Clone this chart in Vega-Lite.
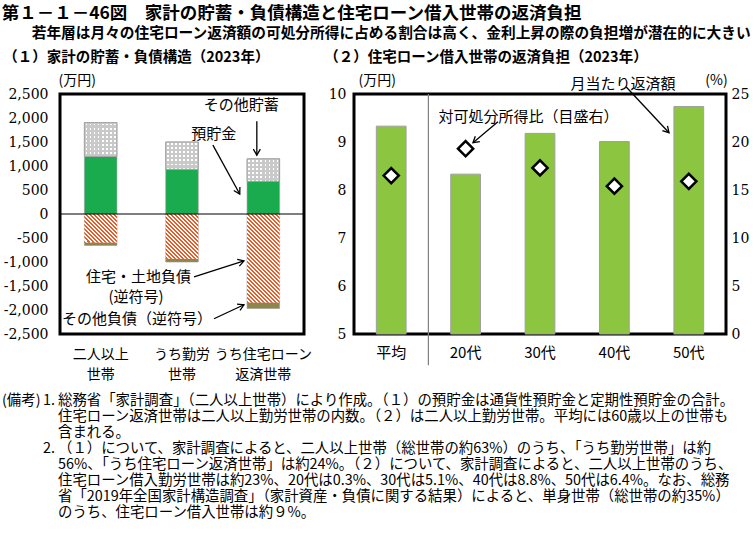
{
"$schema": "https://vega.github.io/schema/vega-lite/v6.json",
"background": "#ffffff",
"padding": {"left": 1, "top": 4, "right": 1, "bottom": 2},
"title": {"text": "第１－１－46図　家計の貯蓄・負債構造と住宅ローン借入世帯の返済負担", "anchor": "start", "frame": "bounds", "font": "Noto Sans CJK JP", "fontSize": 17.5, "fontWeight": "bold", "color": "#000", "offset": 4},
"config": {
  "font": "Noto Sans CJK JP",
  "view": {"stroke": "#000", "strokeWidth": 3},
  "axis": {"grid": false, "domain": false, "ticks": false, "tickSize": 0, "labelColor": "#000", "titleColor": "#000", "titleFont": "Noto Sans CJK JP", "titleFontSize": 14, "titleFontWeight": "normal", "labelFont": "Noto Sans CJK JP"},
  "title": {"font": "Noto Sans CJK JP", "fontSize": 14.5, "fontWeight": "bold", "color": "#000"},
  "text": {"color": "#000", "font": "Noto Sans CJK JP"}
},
"datasets": {
  "ledger": [
    {"cat": "二人以上|世帯", "seg": "預貯金", "order": 1, "value": 1200},
    {"cat": "二人以上|世帯", "seg": "その他貯蓄", "order": 2, "value": 704},
    {"cat": "二人以上|世帯", "seg": "住宅・土地負債", "order": 3, "value": -592},
    {"cat": "二人以上|世帯", "seg": "その他負債", "order": 4, "value": -63},
    {"cat": "うち勤労|世帯", "seg": "預貯金", "order": 1, "value": 930},
    {"cat": "うち勤労|世帯", "seg": "その他貯蓄", "order": 2, "value": 570},
    {"cat": "うち勤労|世帯", "seg": "住宅・土地負債", "order": 3, "value": -930},
    {"cat": "うち勤労|世帯", "seg": "その他負債", "order": 4, "value": -70},
    {"cat": "うち住宅ローン|返済世帯", "seg": "預貯金", "order": 1, "value": 680},
    {"cat": "うち住宅ローン|返済世帯", "seg": "その他貯蓄", "order": 2, "value": 470},
    {"cat": "うち住宅ローン|返済世帯", "seg": "住宅・土地負債", "order": 3, "value": -1845},
    {"cat": "うち住宅ローン|返済世帯", "seg": "その他負債", "order": 4, "value": -125}
  ],
  "repay": [
    {"age": "平均", "amount": 9.33, "ratio": 16.5},
    {"age": "20代", "amount": 8.33, "ratio": 19.3},
    {"age": "30代", "amount": 9.18, "ratio": 17.3},
    {"age": "40代", "amount": 9.01, "ratio": 15.4},
    {"age": "50代", "amount": 9.74, "ratio": 15.9}
  ],
  "annL": [
    {"label": "その他貯蓄", "x": 2.23, "y": 2265},
    {"label": "預貯金", "x": 1.89, "y": 1662},
    {"label": "住宅・土地負債", "x": 0.965, "y": -1309},
    {"label": "(逆符号)", "x": 0.934, "y": -1725},
    {"label": "その他負債（逆符号）", "x": 0.947, "y": -2182}
  ],
  "arrowsL": [
    {"id": "a1", "x": 2.42, "y": 1933, "x2": 2.42, "y2": 1226},
    {"id": "a2", "x": 1.88, "y": 1434, "x2": 2.21, "y2": 416},
    {"id": "a3", "x": 1.648, "y": -1309, "x2": 2.262, "y2": -977},
    {"id": "a4", "x": 1.893, "y": -2182, "x2": 2.262, "y2": -1891}
  ],
  "annR": [
    {"label": "月当たり返済額", "x": 3.616, "y": 10.215},
    {"label": "対可処分所得比（目盛右）", "x": 2.345, "y": 9.527}
  ],
  "arrowsR": [
    {"id": "b1", "x": 3.656, "y": 10.152, "x2": 4.234, "y2": 9.194},
    {"id": "b2", "x": 1.935, "y": 9.423, "x2": 1.599, "y2": 8.985}
  ],
  "sepR": [{"x": 1, "y": 10, "y2": 4.35}],
  "notes": [
    {"line": 1, "head": "(備考)", "num": "1.", "body": "総務省「家計調査」（二人以上世帯）により作成。（１）の預貯金は通貨性預貯金と定期性預貯金の合計。"},
    {"line": 2, "head": "", "num": "", "body": "住宅ローン返済世帯は二人以上勤労世帯の内数。（２）は二人以上勤労世帯。平均には60歳以上の世帯も"},
    {"line": 3, "head": "", "num": "", "body": "含まれる。"},
    {"line": 4, "head": "", "num": "2.", "body": "（１）について、家計調査によると、二人以上世帯（総世帯の約63%）のうち、「うち勤労世帯」は約"},
    {"line": 5, "head": "", "num": "", "body": "56%、「うち住宅ローン返済世帯」は約24%。（２）について、家計調査によると、二人以上世帯のうち、"},
    {"line": 6, "head": "", "num": "", "body": "住宅ローン借入勤労世帯は約23%、20代は0.3%、30代は5.1%、40代は8.8%、50代は6.4%。なお、総務"},
    {"line": 7, "head": "", "num": "", "body": "省「2019年全国家計構造調査」（家計資産・負債に関する結果）によると、単身世帯（総世帯の約35%）"},
    {"line": 8, "head": "", "num": "", "body": "のうち、住宅ローン借入世帯は約９%。"}
  ]
},
"columns": 1,
"align": "none",
"spacing": 10,
"concat": [
  {
    "title": {"text": "若年層は月々の住宅ローン返済額の可処分所得に占める割合は高く、金利上昇の際の負担増が潜在的に大きい", "anchor": "start", "frame": "bounds", "dx": 30, "fontSize": 14.7, "fontWeight": "bold", "offset": 7},
    "hconcat": [
      {
        "width": 244, "height": 240,
        "title": {"text": "（１）家計の貯蓄・負債構造（2023年）", "anchor": "start", "frame": "bounds", "offset": 8},
        "resolve": {"scale": {"x": "independent", "y": "independent"}},
        "layer": [
          {
            "data": {"name": "ledger"},
            "transform": [{"stack": "value", "groupby": ["cat"], "sort": [{"field": "order", "order": "ascending"}], "as": ["v0", "v1"]}],
            "encoding": {
              "x": {"field": "cat", "type": "nominal", "scale": {"domain": ["二人以上|世帯", "うち勤労|世帯", "うち住宅ローン|返済世帯"], "paddingInner": 0.6, "paddingOuter": 0.3}, "axis": {"title": null, "labelAngle": 0, "labelExpr": "split(datum.label, '|')", "labelFontSize": 14, "labelPadding": 13, "labelLineHeight": 20}},
              "y": {"field": "v0", "type": "quantitative", "scale": {"domain": [-2500, 2500], "nice": false, "zero": false}, "axis": {"title": "(万円)", "values": [2500, 2000, 1500, 1000, 500, 0, -500, -1000, -1500, -2000, -2500], "labelExpr": "(datum.value < 0 ? '-' : '') + format(abs(datum.value), ',')", "labelFont": "DejaVu Serif", "labelFontSize": 14, "labelPadding": 12, "titleAngle": 0, "titleAlign": "left", "titleBaseline": "middle", "titleX": -2, "titleY": -14}},
              "y2": {"field": "v1"}
            },
            "layer": [
              {"mark": {"type": "bar", "stroke": "#999999", "strokeWidth": 0.6}, "encoding": {"color": {"field": "seg", "type": "nominal", "scale": {"domain": ["預貯金", "その他貯蓄", "住宅・土地負債", "その他負債"], "range": ["#1aab4f", "#c9c9c9", "#ffffff", "#8e8548"]}, "legend": null}}},
              {"transform": [{"filter": "datum.seg === '住宅・土地負債' && datum.cat === '二人以上|世帯'"}], "mark": {"type": "bar", "fill": {"gradient": "linear", "x1": 0, "y1": 1, "x2": 2.238, "y2": -0.953, "stops": [{"offset":0,"color":"#f05a22"},{"offset":0.0156,"color":"#f05a22"},{"offset":0.0156,"color":"#fff"},{"offset":0.0313,"color":"#fff"},{"offset":0.0313,"color":"#f05a22"},{"offset":0.0469,"color":"#f05a22"},{"offset":0.0469,"color":"#fff"},{"offset":0.0625,"color":"#fff"},{"offset":0.0625,"color":"#f05a22"},{"offset":0.0781,"color":"#f05a22"},{"offset":0.0781,"color":"#fff"},{"offset":0.0938,"color":"#fff"},{"offset":0.0938,"color":"#f05a22"},{"offset":0.1094,"color":"#f05a22"},{"offset":0.1094,"color":"#fff"},{"offset":0.125,"color":"#fff"},{"offset":0.125,"color":"#f05a22"},{"offset":0.1406,"color":"#f05a22"},{"offset":0.1406,"color":"#fff"},{"offset":0.1563,"color":"#fff"},{"offset":0.1563,"color":"#f05a22"},{"offset":0.1719,"color":"#f05a22"},{"offset":0.1719,"color":"#fff"},{"offset":0.1875,"color":"#fff"},{"offset":0.1875,"color":"#f05a22"},{"offset":0.2031,"color":"#f05a22"},{"offset":0.2031,"color":"#fff"},{"offset":0.2188,"color":"#fff"},{"offset":0.2188,"color":"#f05a22"},{"offset":0.2344,"color":"#f05a22"},{"offset":0.2344,"color":"#fff"},{"offset":0.25,"color":"#fff"},{"offset":0.25,"color":"#f05a22"},{"offset":0.2656,"color":"#f05a22"},{"offset":0.2656,"color":"#fff"},{"offset":0.2813,"color":"#fff"},{"offset":0.2813,"color":"#f05a22"},{"offset":0.2969,"color":"#f05a22"},{"offset":0.2969,"color":"#fff"},{"offset":0.3125,"color":"#fff"},{"offset":0.3125,"color":"#f05a22"},{"offset":0.3281,"color":"#f05a22"},{"offset":0.3281,"color":"#fff"},{"offset":0.3438,"color":"#fff"},{"offset":0.3438,"color":"#f05a22"},{"offset":0.3594,"color":"#f05a22"},{"offset":0.3594,"color":"#fff"},{"offset":0.375,"color":"#fff"},{"offset":0.375,"color":"#f05a22"},{"offset":0.3906,"color":"#f05a22"},{"offset":0.3906,"color":"#fff"},{"offset":0.4063,"color":"#fff"},{"offset":0.4063,"color":"#f05a22"},{"offset":0.4219,"color":"#f05a22"},{"offset":0.4219,"color":"#fff"},{"offset":0.4375,"color":"#fff"},{"offset":0.4375,"color":"#f05a22"},{"offset":0.4531,"color":"#f05a22"},{"offset":0.4531,"color":"#fff"},{"offset":0.4688,"color":"#fff"},{"offset":0.4688,"color":"#f05a22"},{"offset":0.4844,"color":"#f05a22"},{"offset":0.4844,"color":"#fff"},{"offset":0.5,"color":"#fff"},{"offset":0.5,"color":"#f05a22"},{"offset":0.5156,"color":"#f05a22"},{"offset":0.5156,"color":"#fff"},{"offset":0.5313,"color":"#fff"},{"offset":0.5313,"color":"#f05a22"},{"offset":0.5469,"color":"#f05a22"},{"offset":0.5469,"color":"#fff"},{"offset":0.5625,"color":"#fff"},{"offset":0.5625,"color":"#f05a22"},{"offset":0.5781,"color":"#f05a22"},{"offset":0.5781,"color":"#fff"},{"offset":0.5938,"color":"#fff"},{"offset":0.5938,"color":"#f05a22"},{"offset":0.6094,"color":"#f05a22"},{"offset":0.6094,"color":"#fff"},{"offset":0.625,"color":"#fff"},{"offset":0.625,"color":"#f05a22"},{"offset":0.6406,"color":"#f05a22"},{"offset":0.6406,"color":"#fff"},{"offset":0.6563,"color":"#fff"},{"offset":0.6563,"color":"#f05a22"},{"offset":0.6719,"color":"#f05a22"},{"offset":0.6719,"color":"#fff"},{"offset":0.6875,"color":"#fff"},{"offset":0.6875,"color":"#f05a22"},{"offset":0.7031,"color":"#f05a22"},{"offset":0.7031,"color":"#fff"},{"offset":0.7188,"color":"#fff"},{"offset":0.7188,"color":"#f05a22"},{"offset":0.7344,"color":"#f05a22"},{"offset":0.7344,"color":"#fff"},{"offset":0.75,"color":"#fff"},{"offset":0.75,"color":"#f05a22"},{"offset":0.7656,"color":"#f05a22"},{"offset":0.7656,"color":"#fff"},{"offset":0.7813,"color":"#fff"},{"offset":0.7813,"color":"#f05a22"},{"offset":0.7969,"color":"#f05a22"},{"offset":0.7969,"color":"#fff"},{"offset":0.8125,"color":"#fff"},{"offset":0.8125,"color":"#f05a22"},{"offset":0.8281,"color":"#f05a22"},{"offset":0.8281,"color":"#fff"},{"offset":0.8438,"color":"#fff"},{"offset":0.8438,"color":"#f05a22"},{"offset":0.8594,"color":"#f05a22"},{"offset":0.8594,"color":"#fff"},{"offset":0.875,"color":"#fff"},{"offset":0.875,"color":"#f05a22"},{"offset":0.8906,"color":"#f05a22"},{"offset":0.8906,"color":"#fff"},{"offset":0.9063,"color":"#fff"},{"offset":0.9063,"color":"#f05a22"},{"offset":0.9219,"color":"#f05a22"},{"offset":0.9219,"color":"#fff"},{"offset":0.9375,"color":"#fff"},{"offset":0.9375,"color":"#f05a22"},{"offset":0.9531,"color":"#f05a22"},{"offset":0.9531,"color":"#fff"},{"offset":0.9688,"color":"#fff"},{"offset":0.9688,"color":"#f05a22"},{"offset":0.9844,"color":"#f05a22"},{"offset":0.9844,"color":"#fff"},{"offset":1,"color":"#fff"}]}}},
              {"transform": [{"filter": "datum.seg === '住宅・土地負債' && datum.cat === 'うち勤労|世帯'"}], "mark": {"type": "bar", "fill": {"gradient": "linear", "x1": 0, "y1": 1, "x2": 1.365, "y2": -0.872, "stops": [{"offset":0,"color":"#f05a22"},{"offset":0.0156,"color":"#f05a22"},{"offset":0.0156,"color":"#fff"},{"offset":0.0313,"color":"#fff"},{"offset":0.0313,"color":"#f05a22"},{"offset":0.0469,"color":"#f05a22"},{"offset":0.0469,"color":"#fff"},{"offset":0.0625,"color":"#fff"},{"offset":0.0625,"color":"#f05a22"},{"offset":0.0781,"color":"#f05a22"},{"offset":0.0781,"color":"#fff"},{"offset":0.0938,"color":"#fff"},{"offset":0.0938,"color":"#f05a22"},{"offset":0.1094,"color":"#f05a22"},{"offset":0.1094,"color":"#fff"},{"offset":0.125,"color":"#fff"},{"offset":0.125,"color":"#f05a22"},{"offset":0.1406,"color":"#f05a22"},{"offset":0.1406,"color":"#fff"},{"offset":0.1563,"color":"#fff"},{"offset":0.1563,"color":"#f05a22"},{"offset":0.1719,"color":"#f05a22"},{"offset":0.1719,"color":"#fff"},{"offset":0.1875,"color":"#fff"},{"offset":0.1875,"color":"#f05a22"},{"offset":0.2031,"color":"#f05a22"},{"offset":0.2031,"color":"#fff"},{"offset":0.2188,"color":"#fff"},{"offset":0.2188,"color":"#f05a22"},{"offset":0.2344,"color":"#f05a22"},{"offset":0.2344,"color":"#fff"},{"offset":0.25,"color":"#fff"},{"offset":0.25,"color":"#f05a22"},{"offset":0.2656,"color":"#f05a22"},{"offset":0.2656,"color":"#fff"},{"offset":0.2813,"color":"#fff"},{"offset":0.2813,"color":"#f05a22"},{"offset":0.2969,"color":"#f05a22"},{"offset":0.2969,"color":"#fff"},{"offset":0.3125,"color":"#fff"},{"offset":0.3125,"color":"#f05a22"},{"offset":0.3281,"color":"#f05a22"},{"offset":0.3281,"color":"#fff"},{"offset":0.3438,"color":"#fff"},{"offset":0.3438,"color":"#f05a22"},{"offset":0.3594,"color":"#f05a22"},{"offset":0.3594,"color":"#fff"},{"offset":0.375,"color":"#fff"},{"offset":0.375,"color":"#f05a22"},{"offset":0.3906,"color":"#f05a22"},{"offset":0.3906,"color":"#fff"},{"offset":0.4063,"color":"#fff"},{"offset":0.4063,"color":"#f05a22"},{"offset":0.4219,"color":"#f05a22"},{"offset":0.4219,"color":"#fff"},{"offset":0.4375,"color":"#fff"},{"offset":0.4375,"color":"#f05a22"},{"offset":0.4531,"color":"#f05a22"},{"offset":0.4531,"color":"#fff"},{"offset":0.4688,"color":"#fff"},{"offset":0.4688,"color":"#f05a22"},{"offset":0.4844,"color":"#f05a22"},{"offset":0.4844,"color":"#fff"},{"offset":0.5,"color":"#fff"},{"offset":0.5,"color":"#f05a22"},{"offset":0.5156,"color":"#f05a22"},{"offset":0.5156,"color":"#fff"},{"offset":0.5313,"color":"#fff"},{"offset":0.5313,"color":"#f05a22"},{"offset":0.5469,"color":"#f05a22"},{"offset":0.5469,"color":"#fff"},{"offset":0.5625,"color":"#fff"},{"offset":0.5625,"color":"#f05a22"},{"offset":0.5781,"color":"#f05a22"},{"offset":0.5781,"color":"#fff"},{"offset":0.5938,"color":"#fff"},{"offset":0.5938,"color":"#f05a22"},{"offset":0.6094,"color":"#f05a22"},{"offset":0.6094,"color":"#fff"},{"offset":0.625,"color":"#fff"},{"offset":0.625,"color":"#f05a22"},{"offset":0.6406,"color":"#f05a22"},{"offset":0.6406,"color":"#fff"},{"offset":0.6563,"color":"#fff"},{"offset":0.6563,"color":"#f05a22"},{"offset":0.6719,"color":"#f05a22"},{"offset":0.6719,"color":"#fff"},{"offset":0.6875,"color":"#fff"},{"offset":0.6875,"color":"#f05a22"},{"offset":0.7031,"color":"#f05a22"},{"offset":0.7031,"color":"#fff"},{"offset":0.7188,"color":"#fff"},{"offset":0.7188,"color":"#f05a22"},{"offset":0.7344,"color":"#f05a22"},{"offset":0.7344,"color":"#fff"},{"offset":0.75,"color":"#fff"},{"offset":0.75,"color":"#f05a22"},{"offset":0.7656,"color":"#f05a22"},{"offset":0.7656,"color":"#fff"},{"offset":0.7813,"color":"#fff"},{"offset":0.7813,"color":"#f05a22"},{"offset":0.7969,"color":"#f05a22"},{"offset":0.7969,"color":"#fff"},{"offset":0.8125,"color":"#fff"},{"offset":0.8125,"color":"#f05a22"},{"offset":0.8281,"color":"#f05a22"},{"offset":0.8281,"color":"#fff"},{"offset":0.8438,"color":"#fff"},{"offset":0.8438,"color":"#f05a22"},{"offset":0.8594,"color":"#f05a22"},{"offset":0.8594,"color":"#fff"},{"offset":0.875,"color":"#fff"},{"offset":0.875,"color":"#f05a22"},{"offset":0.8906,"color":"#f05a22"},{"offset":0.8906,"color":"#fff"},{"offset":0.9063,"color":"#fff"},{"offset":0.9063,"color":"#f05a22"},{"offset":0.9219,"color":"#f05a22"},{"offset":0.9219,"color":"#fff"},{"offset":0.9375,"color":"#fff"},{"offset":0.9375,"color":"#f05a22"},{"offset":0.9531,"color":"#f05a22"},{"offset":0.9531,"color":"#fff"},{"offset":0.9688,"color":"#fff"},{"offset":0.9688,"color":"#f05a22"},{"offset":0.9844,"color":"#f05a22"},{"offset":0.9844,"color":"#fff"},{"offset":1,"color":"#fff"}]}}},
              {"transform": [{"filter": "datum.seg === '住宅・土地負債' && datum.cat === 'うち住宅ローン|返済世帯'"}], "mark": {"type": "bar", "fill": {"gradient": "linear", "x1": 0, "y1": 1, "x2": 0.467, "y2": -0.272, "stops": [{"offset":0,"color":"#f05a22"},{"offset":0.0156,"color":"#f05a22"},{"offset":0.0156,"color":"#fff"},{"offset":0.0313,"color":"#fff"},{"offset":0.0313,"color":"#f05a22"},{"offset":0.0469,"color":"#f05a22"},{"offset":0.0469,"color":"#fff"},{"offset":0.0625,"color":"#fff"},{"offset":0.0625,"color":"#f05a22"},{"offset":0.0781,"color":"#f05a22"},{"offset":0.0781,"color":"#fff"},{"offset":0.0938,"color":"#fff"},{"offset":0.0938,"color":"#f05a22"},{"offset":0.1094,"color":"#f05a22"},{"offset":0.1094,"color":"#fff"},{"offset":0.125,"color":"#fff"},{"offset":0.125,"color":"#f05a22"},{"offset":0.1406,"color":"#f05a22"},{"offset":0.1406,"color":"#fff"},{"offset":0.1563,"color":"#fff"},{"offset":0.1563,"color":"#f05a22"},{"offset":0.1719,"color":"#f05a22"},{"offset":0.1719,"color":"#fff"},{"offset":0.1875,"color":"#fff"},{"offset":0.1875,"color":"#f05a22"},{"offset":0.2031,"color":"#f05a22"},{"offset":0.2031,"color":"#fff"},{"offset":0.2188,"color":"#fff"},{"offset":0.2188,"color":"#f05a22"},{"offset":0.2344,"color":"#f05a22"},{"offset":0.2344,"color":"#fff"},{"offset":0.25,"color":"#fff"},{"offset":0.25,"color":"#f05a22"},{"offset":0.2656,"color":"#f05a22"},{"offset":0.2656,"color":"#fff"},{"offset":0.2813,"color":"#fff"},{"offset":0.2813,"color":"#f05a22"},{"offset":0.2969,"color":"#f05a22"},{"offset":0.2969,"color":"#fff"},{"offset":0.3125,"color":"#fff"},{"offset":0.3125,"color":"#f05a22"},{"offset":0.3281,"color":"#f05a22"},{"offset":0.3281,"color":"#fff"},{"offset":0.3438,"color":"#fff"},{"offset":0.3438,"color":"#f05a22"},{"offset":0.3594,"color":"#f05a22"},{"offset":0.3594,"color":"#fff"},{"offset":0.375,"color":"#fff"},{"offset":0.375,"color":"#f05a22"},{"offset":0.3906,"color":"#f05a22"},{"offset":0.3906,"color":"#fff"},{"offset":0.4063,"color":"#fff"},{"offset":0.4063,"color":"#f05a22"},{"offset":0.4219,"color":"#f05a22"},{"offset":0.4219,"color":"#fff"},{"offset":0.4375,"color":"#fff"},{"offset":0.4375,"color":"#f05a22"},{"offset":0.4531,"color":"#f05a22"},{"offset":0.4531,"color":"#fff"},{"offset":0.4688,"color":"#fff"},{"offset":0.4688,"color":"#f05a22"},{"offset":0.4844,"color":"#f05a22"},{"offset":0.4844,"color":"#fff"},{"offset":0.5,"color":"#fff"},{"offset":0.5,"color":"#f05a22"},{"offset":0.5156,"color":"#f05a22"},{"offset":0.5156,"color":"#fff"},{"offset":0.5313,"color":"#fff"},{"offset":0.5313,"color":"#f05a22"},{"offset":0.5469,"color":"#f05a22"},{"offset":0.5469,"color":"#fff"},{"offset":0.5625,"color":"#fff"},{"offset":0.5625,"color":"#f05a22"},{"offset":0.5781,"color":"#f05a22"},{"offset":0.5781,"color":"#fff"},{"offset":0.5938,"color":"#fff"},{"offset":0.5938,"color":"#f05a22"},{"offset":0.6094,"color":"#f05a22"},{"offset":0.6094,"color":"#fff"},{"offset":0.625,"color":"#fff"},{"offset":0.625,"color":"#f05a22"},{"offset":0.6406,"color":"#f05a22"},{"offset":0.6406,"color":"#fff"},{"offset":0.6563,"color":"#fff"},{"offset":0.6563,"color":"#f05a22"},{"offset":0.6719,"color":"#f05a22"},{"offset":0.6719,"color":"#fff"},{"offset":0.6875,"color":"#fff"},{"offset":0.6875,"color":"#f05a22"},{"offset":0.7031,"color":"#f05a22"},{"offset":0.7031,"color":"#fff"},{"offset":0.7188,"color":"#fff"},{"offset":0.7188,"color":"#f05a22"},{"offset":0.7344,"color":"#f05a22"},{"offset":0.7344,"color":"#fff"},{"offset":0.75,"color":"#fff"},{"offset":0.75,"color":"#f05a22"},{"offset":0.7656,"color":"#f05a22"},{"offset":0.7656,"color":"#fff"},{"offset":0.7813,"color":"#fff"},{"offset":0.7813,"color":"#f05a22"},{"offset":0.7969,"color":"#f05a22"},{"offset":0.7969,"color":"#fff"},{"offset":0.8125,"color":"#fff"},{"offset":0.8125,"color":"#f05a22"},{"offset":0.8281,"color":"#f05a22"},{"offset":0.8281,"color":"#fff"},{"offset":0.8438,"color":"#fff"},{"offset":0.8438,"color":"#f05a22"},{"offset":0.8594,"color":"#f05a22"},{"offset":0.8594,"color":"#fff"},{"offset":0.875,"color":"#fff"},{"offset":0.875,"color":"#f05a22"},{"offset":0.8906,"color":"#f05a22"},{"offset":0.8906,"color":"#fff"},{"offset":0.9063,"color":"#fff"},{"offset":0.9063,"color":"#f05a22"},{"offset":0.9219,"color":"#f05a22"},{"offset":0.9219,"color":"#fff"},{"offset":0.9375,"color":"#fff"},{"offset":0.9375,"color":"#f05a22"},{"offset":0.9531,"color":"#f05a22"},{"offset":0.9531,"color":"#fff"},{"offset":0.9688,"color":"#fff"},{"offset":0.9688,"color":"#f05a22"},{"offset":0.9844,"color":"#f05a22"},{"offset":0.9844,"color":"#fff"},{"offset":1,"color":"#fff"}]}}},
              {"transform": [{"filter": "datum.seg === 'その他貯蓄'"}], "mark": {"type": "bar", "fill": {"gradient": "linear", "x1": 0, "y1": 0, "x2": 1, "y2": 0, "stops": [{"offset":0,"color":"#c9c9c9"},{"offset":0.0375,"color":"#c9c9c9"},{"offset":0.0375,"color":"#fff"},{"offset":0.0875,"color":"#fff"},{"offset":0.0875,"color":"#c9c9c9"},{"offset":0.1625,"color":"#c9c9c9"},{"offset":0.1625,"color":"#fff"},{"offset":0.2125,"color":"#fff"},{"offset":0.2125,"color":"#c9c9c9"},{"offset":0.2875,"color":"#c9c9c9"},{"offset":0.2875,"color":"#fff"},{"offset":0.3375,"color":"#fff"},{"offset":0.3375,"color":"#c9c9c9"},{"offset":0.4125,"color":"#c9c9c9"},{"offset":0.4125,"color":"#fff"},{"offset":0.4625,"color":"#fff"},{"offset":0.4625,"color":"#c9c9c9"},{"offset":0.5375,"color":"#c9c9c9"},{"offset":0.5375,"color":"#fff"},{"offset":0.5875,"color":"#fff"},{"offset":0.5875,"color":"#c9c9c9"},{"offset":0.6625,"color":"#c9c9c9"},{"offset":0.6625,"color":"#fff"},{"offset":0.7125,"color":"#fff"},{"offset":0.7125,"color":"#c9c9c9"},{"offset":0.7875,"color":"#c9c9c9"},{"offset":0.7875,"color":"#fff"},{"offset":0.8375,"color":"#fff"},{"offset":0.8375,"color":"#c9c9c9"},{"offset":0.9125,"color":"#c9c9c9"},{"offset":0.9125,"color":"#fff"},{"offset":0.9625,"color":"#fff"},{"offset":0.9625,"color":"#c9c9c9"},{"offset":1,"color":"#c9c9c9"}]}}},
              {"transform": [{"filter": "datum.seg === 'その他貯蓄' && datum.cat === '二人以上|世帯'"}], "mark": {"type": "bar", "stroke": "#9a9a9a", "strokeWidth": 0.8, "fill": {"gradient": "linear", "x1": 0, "y1": 0, "x2": 0, "y2": 0.963, "stops": [{"offset":0,"color":"#c9c9c9"},{"offset":0.0375,"color":"#c9c9c9"},{"offset":0.0375,"color":"rgba(201,201,201,0)"},{"offset":0.0875,"color":"rgba(201,201,201,0)"},{"offset":0.0875,"color":"#c9c9c9"},{"offset":0.1625,"color":"#c9c9c9"},{"offset":0.1625,"color":"rgba(201,201,201,0)"},{"offset":0.2125,"color":"rgba(201,201,201,0)"},{"offset":0.2125,"color":"#c9c9c9"},{"offset":0.2875,"color":"#c9c9c9"},{"offset":0.2875,"color":"rgba(201,201,201,0)"},{"offset":0.3375,"color":"rgba(201,201,201,0)"},{"offset":0.3375,"color":"#c9c9c9"},{"offset":0.4125,"color":"#c9c9c9"},{"offset":0.4125,"color":"rgba(201,201,201,0)"},{"offset":0.4625,"color":"rgba(201,201,201,0)"},{"offset":0.4625,"color":"#c9c9c9"},{"offset":0.5375,"color":"#c9c9c9"},{"offset":0.5375,"color":"rgba(201,201,201,0)"},{"offset":0.5875,"color":"rgba(201,201,201,0)"},{"offset":0.5875,"color":"#c9c9c9"},{"offset":0.6625,"color":"#c9c9c9"},{"offset":0.6625,"color":"rgba(201,201,201,0)"},{"offset":0.7125,"color":"rgba(201,201,201,0)"},{"offset":0.7125,"color":"#c9c9c9"},{"offset":0.7875,"color":"#c9c9c9"},{"offset":0.7875,"color":"rgba(201,201,201,0)"},{"offset":0.8375,"color":"rgba(201,201,201,0)"},{"offset":0.8375,"color":"#c9c9c9"},{"offset":0.9125,"color":"#c9c9c9"},{"offset":0.9125,"color":"rgba(201,201,201,0)"},{"offset":0.9625,"color":"rgba(201,201,201,0)"},{"offset":0.9625,"color":"#c9c9c9"},{"offset":1,"color":"#c9c9c9"}]}}},
              {"transform": [{"filter": "datum.seg === 'その他貯蓄' && datum.cat === 'うち勤労|世帯'"}], "mark": {"type": "bar", "stroke": "#9a9a9a", "strokeWidth": 0.8, "fill": {"gradient": "linear", "x1": 0, "y1": 0, "x2": 0, "y2": 1.188, "stops": [{"offset":0,"color":"#c9c9c9"},{"offset":0.0375,"color":"#c9c9c9"},{"offset":0.0375,"color":"rgba(201,201,201,0)"},{"offset":0.0875,"color":"rgba(201,201,201,0)"},{"offset":0.0875,"color":"#c9c9c9"},{"offset":0.1625,"color":"#c9c9c9"},{"offset":0.1625,"color":"rgba(201,201,201,0)"},{"offset":0.2125,"color":"rgba(201,201,201,0)"},{"offset":0.2125,"color":"#c9c9c9"},{"offset":0.2875,"color":"#c9c9c9"},{"offset":0.2875,"color":"rgba(201,201,201,0)"},{"offset":0.3375,"color":"rgba(201,201,201,0)"},{"offset":0.3375,"color":"#c9c9c9"},{"offset":0.4125,"color":"#c9c9c9"},{"offset":0.4125,"color":"rgba(201,201,201,0)"},{"offset":0.4625,"color":"rgba(201,201,201,0)"},{"offset":0.4625,"color":"#c9c9c9"},{"offset":0.5375,"color":"#c9c9c9"},{"offset":0.5375,"color":"rgba(201,201,201,0)"},{"offset":0.5875,"color":"rgba(201,201,201,0)"},{"offset":0.5875,"color":"#c9c9c9"},{"offset":0.6625,"color":"#c9c9c9"},{"offset":0.6625,"color":"rgba(201,201,201,0)"},{"offset":0.7125,"color":"rgba(201,201,201,0)"},{"offset":0.7125,"color":"#c9c9c9"},{"offset":0.7875,"color":"#c9c9c9"},{"offset":0.7875,"color":"rgba(201,201,201,0)"},{"offset":0.8375,"color":"rgba(201,201,201,0)"},{"offset":0.8375,"color":"#c9c9c9"},{"offset":0.9125,"color":"#c9c9c9"},{"offset":0.9125,"color":"rgba(201,201,201,0)"},{"offset":0.9625,"color":"rgba(201,201,201,0)"},{"offset":0.9625,"color":"#c9c9c9"},{"offset":1,"color":"#c9c9c9"}]}}},
              {"transform": [{"filter": "datum.seg === 'その他貯蓄' && datum.cat === 'うち住宅ローン|返済世帯'"}], "mark": {"type": "bar", "stroke": "#9a9a9a", "strokeWidth": 0.8, "fill": {"gradient": "linear", "x1": 0, "y1": 0, "x2": 0, "y2": 1.441, "stops": [{"offset":0,"color":"#c9c9c9"},{"offset":0.0375,"color":"#c9c9c9"},{"offset":0.0375,"color":"rgba(201,201,201,0)"},{"offset":0.0875,"color":"rgba(201,201,201,0)"},{"offset":0.0875,"color":"#c9c9c9"},{"offset":0.1625,"color":"#c9c9c9"},{"offset":0.1625,"color":"rgba(201,201,201,0)"},{"offset":0.2125,"color":"rgba(201,201,201,0)"},{"offset":0.2125,"color":"#c9c9c9"},{"offset":0.2875,"color":"#c9c9c9"},{"offset":0.2875,"color":"rgba(201,201,201,0)"},{"offset":0.3375,"color":"rgba(201,201,201,0)"},{"offset":0.3375,"color":"#c9c9c9"},{"offset":0.4125,"color":"#c9c9c9"},{"offset":0.4125,"color":"rgba(201,201,201,0)"},{"offset":0.4625,"color":"rgba(201,201,201,0)"},{"offset":0.4625,"color":"#c9c9c9"},{"offset":0.5375,"color":"#c9c9c9"},{"offset":0.5375,"color":"rgba(201,201,201,0)"},{"offset":0.5875,"color":"rgba(201,201,201,0)"},{"offset":0.5875,"color":"#c9c9c9"},{"offset":0.6625,"color":"#c9c9c9"},{"offset":0.6625,"color":"rgba(201,201,201,0)"},{"offset":0.7125,"color":"rgba(201,201,201,0)"},{"offset":0.7125,"color":"#c9c9c9"},{"offset":0.7875,"color":"#c9c9c9"},{"offset":0.7875,"color":"rgba(201,201,201,0)"},{"offset":0.8375,"color":"rgba(201,201,201,0)"},{"offset":0.8375,"color":"#c9c9c9"},{"offset":0.9125,"color":"#c9c9c9"},{"offset":0.9125,"color":"rgba(201,201,201,0)"},{"offset":0.9625,"color":"rgba(201,201,201,0)"},{"offset":0.9625,"color":"#c9c9c9"},{"offset":1,"color":"#c9c9c9"}]}}}
            ]
          },
          {
            "layer": [
              {"data": {"values": [{}]}, "mark": {"type": "rule", "color": "#000", "strokeWidth": 1.2}, "encoding": {"y": {"datum": 0, "type": "quantitative", "scale": {"domain": [-2500, 2500], "nice": false, "zero": false}, "axis": null}}},
              {"data": {"name": "annL"}, "mark": {"type": "text", "fontSize": 15, "align": "center", "baseline": "middle"}, "encoding": {"x": {"field": "x", "type": "quantitative", "scale": {"domain": [0, 3], "nice": false, "zero": false}, "axis": null}, "y": {"field": "y", "type": "quantitative", "scale": {"domain": [-2500, 2500], "nice": false, "zero": false}, "axis": null}, "text": {"field": "label"}}},
              {"data": {"name": "arrowsL"}, "mark": {"type": "rule", "color": "#000", "strokeWidth": 1.3}, "encoding": {"x": {"field": "x", "type": "quantitative", "axis": null}, "y": {"field": "y", "type": "quantitative", "axis": null}, "x2": {"field": "x2"}, "y2": {"field": "y2"}}},
              {"data": {"name": "arrowsL"}, "transform": [{"filter": "datum.id === 'a1'"}], "mark": {"type": "point", "shape": "M-0.7,1.2L0,0L0.7,1.2", "size": 100, "filled": false, "stroke": "#000", "strokeWidth": 1.3, "opacity": 1, "angle": 180}, "encoding": {"x": {"field": "x2", "type": "quantitative", "axis": null}, "y": {"field": "y2", "type": "quantitative", "axis": null}}},
              {"data": {"name": "arrowsL"}, "transform": [{"filter": "datum.id === 'a2'"}], "mark": {"type": "point", "shape": "M-0.7,1.2L0,0L0.7,1.2", "size": 100, "filled": false, "stroke": "#000", "strokeWidth": 1.3, "opacity": 1, "angle": 151}, "encoding": {"x": {"field": "x2", "type": "quantitative", "axis": null}, "y": {"field": "y2", "type": "quantitative", "axis": null}}},
              {"data": {"name": "arrowsL"}, "transform": [{"filter": "datum.id === 'a3'"}], "mark": {"type": "point", "shape": "M-0.7,1.2L0,0L0.7,1.2", "size": 100, "filled": false, "stroke": "#000", "strokeWidth": 1.3, "opacity": 1, "angle": 72}, "encoding": {"x": {"field": "x2", "type": "quantitative", "axis": null}, "y": {"field": "y2", "type": "quantitative", "axis": null}}},
              {"data": {"name": "arrowsL"}, "transform": [{"filter": "datum.id === 'a4'"}], "mark": {"type": "point", "shape": "M-0.7,1.2L0,0L0.7,1.2", "size": 100, "filled": false, "stroke": "#000", "strokeWidth": 1.3, "opacity": 1, "angle": 65}, "encoding": {"x": {"field": "x2", "type": "quantitative", "axis": null}, "y": {"field": "y2", "type": "quantitative", "axis": null}}}
            ]
          }
        ]
      },
      {
        "width": 372, "height": 240,
        "title": {"text": "（２）住宅ローン借入世帯の返済負担（2023年）", "anchor": "start", "frame": "bounds", "offset": 8, "dx": -4},
        "resolve": {"scale": {"x": "independent", "y": "independent"}},
        "layer": [
          {
            "data": {"name": "repay"},
            "encoding": {"x": {"field": "age", "type": "nominal", "scale": {"domain": ["平均", "20代", "30代", "40代", "50代"], "paddingInner": 0.6, "paddingOuter": 0.3}, "axis": {"title": null, "labelAngle": 0, "labelFontSize": 15, "labelPadding": 11}}},
            "resolve": {"scale": {"y": "independent"}},
            "layer": [
              {"mark": {"type": "bar", "fill": "#8cc540", "stroke": "#a0a0a0", "strokeWidth": 1}, "encoding": {"y": {"field": "amount", "type": "quantitative", "scale": {"domain": [5, 10], "nice": false, "zero": false}, "axis": {"title": "(万円)", "values": [5, 6, 7, 8, 9, 10], "labelFont": "DejaVu Serif", "labelFontSize": 14, "labelPadding": 8, "titleAngle": 0, "titleAlign": "left", "titleBaseline": "middle", "titleX": 4, "titleY": -14}}, "y2": {"datum": 5}}},
              {"mark": {"type": "point", "shape": "diamond", "size": 230, "filled": true, "fill": "#ffffff", "stroke": "#000", "strokeWidth": 2.5, "opacity": 1}, "encoding": {"y": {"field": "ratio", "type": "quantitative", "scale": {"domain": [0, 25], "nice": false}, "axis": {"orient": "right", "title": "(%)", "values": [0, 5, 10, 15, 20, 25], "labelFont": "DejaVu Serif", "labelFontSize": 14, "labelPadding": 5, "titleAngle": 0, "titleAlign": "center", "titleBaseline": "middle", "titleX": -10, "titleY": -14}}}}
            ]
          },
          {
            "layer": [
              {"data": {"name": "sepR"}, "mark": {"type": "rule", "color": "#808080", "strokeWidth": 1.2}, "encoding": {"x": {"field": "x", "type": "quantitative", "scale": {"domain": [0, 5], "nice": false, "zero": false}, "axis": null}, "y": {"field": "y", "type": "quantitative", "scale": {"domain": [5, 10], "nice": false, "zero": false}, "axis": null}, "y2": {"field": "y2"}}},
              {"data": {"name": "annR"}, "mark": {"type": "text", "fontSize": 15, "align": "center", "baseline": "middle"}, "encoding": {"x": {"field": "x", "type": "quantitative", "axis": null}, "y": {"field": "y", "type": "quantitative", "axis": null}, "text": {"field": "label"}}},
              {"data": {"name": "arrowsR"}, "mark": {"type": "rule", "color": "#000", "strokeWidth": 1.3}, "encoding": {"x": {"field": "x", "type": "quantitative", "axis": null}, "y": {"field": "y", "type": "quantitative", "axis": null}, "x2": {"field": "x2"}, "y2": {"field": "y2"}}},
              {"data": {"name": "arrowsR"}, "transform": [{"filter": "datum.id === 'b1'"}], "mark": {"type": "point", "shape": "M-0.7,1.2L0,0L0.7,1.2", "size": 100, "filled": false, "stroke": "#000", "strokeWidth": 1.3, "opacity": 1, "angle": 137}, "encoding": {"x": {"field": "x2", "type": "quantitative", "axis": null}, "y": {"field": "y2", "type": "quantitative", "axis": null}}},
              {"data": {"name": "arrowsR"}, "transform": [{"filter": "datum.id === 'b2'"}], "mark": {"type": "point", "shape": "M-0.7,1.2L0,0L0.7,1.2", "size": 100, "filled": false, "stroke": "#000", "strokeWidth": 1.3, "opacity": 1, "angle": 230}, "encoding": {"x": {"field": "x2", "type": "quantitative", "axis": null}, "y": {"field": "y2", "type": "quantitative", "axis": null}}}
            ]
          }
        ]
      }
    ],
    "spacing": 50,
    "bounds": "flush"
  },
  {
    "width": 690, "height": 112,
    "view": {"stroke": null},
    "data": {"name": "notes"},
    "encoding": {
      "y": {"field": "line", "type": "quantitative", "scale": {"domain": [1, 8], "reverse": true, "nice": false, "zero": false}, "axis": null}
    },
    "layer": [
      {"mark": {"type": "text", "align": "left", "baseline": "middle", "fontSize": 14.4}, "encoding": {"x": {"value": -58}, "text": {"field": "head"}}},
      {"mark": {"type": "text", "align": "left", "baseline": "middle", "fontSize": 14.4}, "encoding": {"x": {"value": -17}, "text": {"field": "num"}}},
      {"mark": {"type": "text", "align": "left", "baseline": "middle", "fontSize": 14.4}, "encoding": {"x": {"value": -2}, "text": {"field": "body"}}}
    ]
  }
]
}
